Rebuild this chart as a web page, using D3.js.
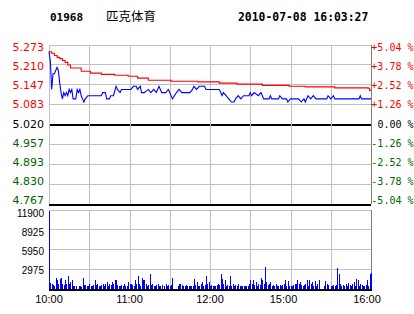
<!DOCTYPE html>
<html>
<head>
<meta charset="utf-8">
<script src="https://cdn.jsdelivr.net/npm/d3@7"></script>
<style>
  body { margin: 0; background: #fff; }
  svg { display: block; }
</style>
</head>
<body>
<svg width="414" height="314"></svg>
<script>
// ---------------- data ----------------
var code = "01968";
var name = "匹克体育";
var stamp = "2010-07-08 16:03:27";
var prevClose = 5.020;

var priceTicks = [5.273, 5.210, 5.147, 5.083, 5.020, 4.957, 4.893, 4.830, 4.767];
var pctTicks = ["+5.04 %", "+3.78 %", "+2.52 %", "+1.26 %", "0.00 %", "-1.26 %", "-2.52 %", "-3.78 %", "-5.04 %"];
var volTicks = [11900, 8925, 5950, 2975];
var timeLabels = ["10:00", "11:00", "12:00", "15:00", "16:00"];
var timeLabelMin = [0, 60, 120, 180, 240];

// price: minute index (0..240) and last price
var priceMin = [0,1,2,3,4,5,6,7,8,9,10,11,12,13,14,15,16,17,18,20,21,22,23,24,25,26,27,29,36,39,40,42,43,45,46,48,50,51,53,54,61,63,65,66,68,69,71,74,76,78,80,82,84,87,89,92,95,97,99,105,107,108,110,112,116,117,127,128,129,130,132,134,136,138,139,141,143,145,149,150,151,153,156,158,160,164,165,166,171,172,174,177,178,180,186,188,190,191,193,195,197,199,207,208,210,212,213,231,232,233,240];
var priceVal = [5.25,5.22,5.13,5.18,5.18,5.19,5.20,5.19,5.15,5.12,5.10,5.12,5.11,5.12,5.11,5.13,5.12,5.13,5.10,5.10,5.13,5.12,5.13,5.11,5.10,5.09,5.10,5.11,5.11,5.11,5.12,5.12,5.10,5.10,5.11,5.11,5.14,5.13,5.12,5.13,5.13,5.14,5.14,5.13,5.14,5.12,5.12,5.13,5.12,5.13,5.12,5.14,5.12,5.12,5.13,5.10,5.12,5.13,5.12,5.12,5.13,5.14,5.13,5.14,5.14,5.13,5.13,5.12,5.11,5.12,5.11,5.10,5.09,5.09,5.10,5.11,5.10,5.11,5.11,5.12,5.11,5.12,5.11,5.12,5.10,5.10,5.11,5.10,5.10,5.11,5.10,5.10,5.09,5.10,5.10,5.09,5.10,5.09,5.11,5.10,5.11,5.10,5.10,5.11,5.10,5.11,5.10,5.10,5.11,5.10,5.10];

// average price
var avgMin = [0,2,4,6,8,10,12,14,16,24,31,39,49,59,66,74,91,111,127,140,159,179,191,213,238,239,240];
var avgVal = [5.25,5.245,5.238,5.232,5.228,5.222,5.216,5.208,5.198,5.188,5.182,5.178,5.175,5.172,5.166,5.159,5.156,5.154,5.150,5.147,5.143,5.140,5.138,5.135,5.134,5.127,5.127];

// volume per minute, minute 0..240
var volume = [
  11700,850,650,500,450,1550,1350,750,1450,1550,
  750,500,1250,750,1950,750,1000,1300,350,350,
  350,0,350,350,250,1550,600,500,350,350,
  650,350,350,500,1250,500,650,350,350,500,
  750,350,750,1000,350,750,500,1000,750,1250,
  1350,500,350,350,500,350,750,350,350,1000,
  750,
  650,500,350,1250,750,1950,750,350,1550,1350,
  1350,750,350,500,2150,500,750,350,350,500,
  650,350,350,500,0,350,650,350,500,350,
  500,1650,0,0,0,350,750,650,500,350,
  350,500,350,350,350,350,350,1400,500,1000,
  350,350,750,1000,350,500,1850,650,1000,350,
  500,350,350,350,500,650,500,2150,1500,750,
  1250,350,500,350,1850,350,650,350,500,350,
  650,350,350,350,350,350,350,350,750,1350,
  750,1250,500,1000,350,750,500,1650,1350,650,
  3250,1000,500,650,
  1000,350,500,350,650,
  350,350,500,350,500,750,1250,350,1150,
  350,350,350,500,650,750,1250,650,1000,500,
  350,500,750,1250,350,1250,650,1000,350,1150,
  350,650,1250,0,0,0,350,1150,650,500,
  0,350,350,500,350,500,3050,2150,750,350,
  500,350,750,350,850,500,350,650,1000,350,
  1500,1250,350,650,500,350,350,500,1350,350,2150,2300
];

// ---------------- layout ----------------
var L = 49, R = 371;
var pTop = 44.5, pBot = 203.5;
var vTop = 209.5, vBot = 288.5;
var grid = '#c0c0c0';
var up = '#ff0000', down = '#006400';

var svg = d3.select('svg');
svg.append('rect').attr('width', 414).attr('height', 314).attr('fill', '#fff');

var x = d3.scaleLinear().domain([0, 240]).range([L, R]);
var y = d3.scaleLinear().domain([priceTicks[8], priceTicks[0]]).range([pBot, pTop]);
var yv = d3.scaleLinear().domain([0, volTicks[0]]).range([vBot, vTop]);
var cols = d3.range(0, 241, 30);

// ---- header
svg.append('text').attr('x', 50).attr('y', 21)
   .style('font', 'bold 11px "DejaVu Sans Mono"').text(code);
svg.append('text').attr('x', 106).attr('y', 20.5)
   .style('font', '12.5px "Noto Sans CJK SC"').text(name);
svg.append('text').attr('x', 238).attr('y', 21)
   .style('font', 'bold 11.4px "DejaVu Sans Mono"').text(stamp);

// ---- price panel grid
var gp = svg.append('g').attr('shape-rendering', 'crispEdges');
gp.selectAll('.hl').data(priceTicks).enter().append('line')
  .attr('x1', L).attr('x2', R)
  .attr('y1', d => Math.round(y(d)) + 0.5).attr('y2', d => Math.round(y(d)) + 0.5)
  .attr('stroke', d => (d == prevClose || d == priceTicks[8]) ? '#000' : grid)
  .attr('stroke-width', d => (d == prevClose || d == priceTicks[8]) ? 2 : 1);
gp.selectAll('.vl').data(cols).enter().append('line')
  .attr('x1', d => Math.round(x(d)) + 0.5).attr('x2', d => Math.round(x(d)) + 0.5)
  .attr('y1', pTop).attr('y2', pBot)
  .attr('stroke', d => d == 240 ? '#808080' : grid);

// ---- volume panel grid
var gv = svg.append('g').attr('shape-rendering', 'crispEdges');
gv.selectAll('.hl').data(volTicks).enter().append('line')
  .attr('x1', L).attr('x2', R)
  .attr('y1', d => Math.round(yv(d)) + 0.5).attr('y2', d => Math.round(yv(d)) + 0.5)
  .attr('stroke', grid);
gv.selectAll('.vl').data(cols).enter().append('line')
  .attr('x1', d => Math.round(x(d)) + 0.5).attr('x2', d => Math.round(x(d)) + 0.5)
  .attr('y1', vTop).attr('y2', vBot)
  .attr('stroke', d => d == 240 ? '#808080' : grid);

// ---- volume bars
gv.selectAll('rect').data(volume).enter().append('rect')
  .attr('x', (d, i) => Math.round(x(i)))
  .attr('width', 1)
  .attr('y', d => yv(d))
  .attr('height', d => vBot - yv(d))
  .attr('fill', '#0000ff');
gv.append('line').attr('x1', L).attr('x2', R + 1)
  .attr('y1', Math.round(vBot) + 0.5).attr('y2', Math.round(vBot) + 0.5)
  .attr('stroke', '#000').attr('stroke-width', 2);

// ---- price lines
var avgPts = avgMin.map((m, i) => [m, avgVal[i]]);
var pricePts = priceMin.map((m, i) => [m, priceVal[i]]);

svg.append('path').datum(avgPts)
   .attr('d', d3.line().x(d => x(d[0])).y(d => y(d[1])).curve(d3.curveStepAfter))
   .attr('fill', 'none').attr('stroke', '#ff0000').attr('stroke-width', 1.1);
svg.append('path').datum(pricePts)
   .attr('d', d3.line().x(d => x(d[0])).y(d => y(d[1])))
   .attr('fill', 'none').attr('stroke', '#0000ff').attr('stroke-width', 1.1);

// ---- left price labels
var labY = d3.scaleLinear().domain([0, 8]).range([47, 200.3]);
svg.selectAll('.pl').data(priceTicks).enter().append('text')
   .attr('x', 44).attr('y', (d, i) => labY(i) + 4)
   .attr('text-anchor', 'end')
   .style('font', '11px "DejaVu Sans"')
   .attr('fill', d => d > prevClose ? up : (d < prevClose ? down : '#000'))
   .text(d => d.toFixed(3));

// ---- right percentage labels
svg.selectAll('.rl').data(pctTicks).enter().append('text')
   .attr('x', 413.5).attr('y', (d, i) => labY(i) + 4)
   .attr('text-anchor', 'end')
   .style('font', '10px "DejaVu Sans Mono"')
   .attr('fill', d => d[0] == '+' ? up : (d[0] == '-' ? down : '#000'))
   .text(d => d);

// ---- volume labels
var volLabY = d3.scaleLinear().domain([0, 3]).range([213.3, 270]);
svg.selectAll('.vlab').data(volTicks).enter().append('text')
   .attr('x', 44).attr('y', (d, i) => volLabY(i) + 3.6)
   .attr('text-anchor', 'end')
   .style('font', '10px "Liberation Sans"')
   .text(d => d);

// ---- time labels (the afternoon ones sit a little left of their gridline)
var timeShift = [0, 0, 0, -7, -4];
svg.selectAll('.tl').data(timeLabels).enter().append('text')
   .attr('x', (d, i) => x(timeLabelMin[i]) + timeShift[i])
   .attr('y', 303)
   .attr('text-anchor', 'middle')
   .style('font', '11px "Liberation Sans"')
   .text(d => d);
</script>
</body>
</html>
